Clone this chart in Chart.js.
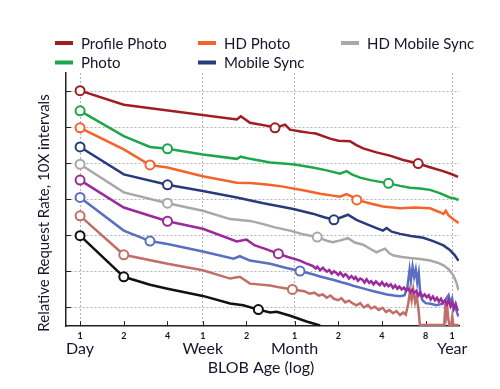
<!DOCTYPE html>
<html>
<head>
<meta charset="utf-8">
<script src="https://cdn.jsdelivr.net/npm/chart.js@4.4.1/dist/chart.umd.min.js"></script>
<style>
  html, body { margin: 0; padding: 0; background: #fff; }
  #wrap { width: 500px; height: 389px; position: relative; }
</style>
</head>
<body>
<div id="wrap"><canvas id="c" width="500" height="389"></canvas></div>
<script>
// x = BLOB age in days, y = relative request rate in decades (10X per grid step)
const tickDays = [1, 2, 4, 7, 14, 30, 60, 120, 240, 365];
const tickLabels = ['1', '2', '4', '1', '2', '1', '2', '4', '8', '1'];
const periodDays = [1, 7, 30, 365];
const periodLabels = ['Day', 'Week', 'Month', 'Year'];
const rateTicks = [1, 2, 3, 4, 5, 6, 7];

const legendNames = ['Profile Photo', 'Photo', 'HD Photo', 'Mobile Sync', 'HD Mobile Sync'];

const profilePhoto = [[1,7.01],[2,6.62],[12,6.21],[12.8,6.30],[14.8,6.12],[20.4,6.02],[22,5.98],[25.8,6.07],[27.9,5.93],[33,5.88],[38.4,5.84],[42,5.82],[52.7,5.68],[60,5.62],[72.3,5.61],[80,5.50],[89,5.41],[110,5.30],[136,5.21],[168,5.09],[213,4.99],[260,4.88],[316,4.78],[360,4.70],[401,4.62]];
const photo = [[1,6.45],[2,5.75],[3.03,5.45],[4,5.40],[7,5.24],[12,5.12],[12.8,5.18],[14.8,5.12],[20.4,5.02],[25,4.99],[30,4.96],[40,4.88],[50,4.80],[61.6,4.71],[68.5,4.78],[75,4.68],[84.8,4.60],[100,4.53],[133,4.44],[160,4.37],[187,4.32],[220,4.30],[257,4.26],[300,4.17],[352,4.05],[380,4.02],[404,3.98]];
const hdPhoto = [[1,5.98],[2,5.38],[3.03,4.95],[4,4.88],[7,4.64],[12,4.46],[14.8,4.45],[20,4.40],[25,4.35],[35,4.24],[45,4.15],[55,4.10],[61.6,4.07],[68.5,4.14],[74,4.08],[80.5,3.98],[100,3.88],[122,3.80],[160,3.75],[200,3.77],[257,3.75],[300,3.64],[318,3.59],[330,3.68],[345,3.55],[370,3.45],[404,3.34]];
const mobileSync = [[1,5.45],[2,4.69],[4,4.40],[7,4.23],[12,4.05],[18.3,3.89],[24,3.80],[29.4,3.73],[40,3.60],[48,3.50],[56,3.43],[63,3.50],[70,3.57],[80,3.43],[94,3.31],[110,3.20],[122,3.13],[129,3.20],[140,3.10],[160,3.04],[190,2.98],[231,2.93],[270,2.84],[318,2.72],[350,2.60],[380,2.45],[404,2.29]];
const hdMobileSync = [[1,4.97],[2,4.19],[4,3.89],[7,3.68],[10.8,3.45],[14.8,3.40],[18.3,3.31],[22,3.22],[27.9,3.13],[35,3.02],[43,2.95],[50,2.85],[55,2.81],[62,2.86],[70,2.92],[78,2.80],[89,2.74],[100,2.62],[110,2.53],[118,2.58],[126,2.63],[135,2.50],[144,2.44],[165,2.40],[187,2.37],[220,2.34],[257,2.30],[290,2.24],[318,2.17],[345,2.06],[372,1.89],[390,1.70],[404,1.48]];
const purpleSeries = [[1,4.53],[2,3.77],[4,3.39],[7,3.18],[12,2.83],[14,2.88],[16,2.72],[19.3,2.61],[23.2,2.49],[27,2.40],[32.7,2.30],[36,2.22],
    [40,2.15],[42,2.08],[43,2.13],[45,2.03],[47,2.10],[48,2.06],[50,1.99],[52,2.04],[54,1.94],[56,2.00],[58,1.96],[60,1.90],[62,1.97],[65,1.86],
    [67,1.92],[69,1.88],[71,1.80],[74,1.87],[77,1.79],[79,1.84],[82,1.74],[85,1.80],[88,1.77],[91,1.69],[94,1.78],[98,1.68],[101,1.73],
    [105,1.64],[109,1.72],[112,1.67],[116,1.62],[120,1.70],[125,1.60],[129,1.66],[133,1.59],[138,1.64],[143,1.54],[148,1.61],[153,1.52],
    [158,1.58],[164,1.50],[170,1.55],[176,1.46],[182,1.52],[188,1.42],[194,1.49],[200,1.40],[207,1.46],[214,1.33],[221,1.41],[228,1.30],
    [236,1.36],[244,1.28],[252,1.34],[260,1.22],[269,1.30],[278,1.20],[287,1.27],[296,1.16],[306,1.24],[316,1.12],[326,1.19],[336,1.08],
    [346,1.20],[356,1.03],[366,1.12],[376,0.98],[386,1.10],[396,0.94],[404,0.92]];
const blueSeries = [[1,4.05],[2,3.13],[3.03,2.84],[4,2.76],[7,2.55],[11.4,2.35],[12.6,2.42],[14.8,2.30],[20.4,2.21],[26,2.10],[32.7,2.01],
    [40,1.92],[45,1.86],[50,1.81],[56,1.76],[63,1.70],[70,1.65],[76,1.60],[85,1.55],[94,1.50],[105,1.45],[118,1.40],[130,1.36],[145,1.33],
    [160,1.31],[172,1.34],[180,1.60],[186,2.05],[190,1.75],[195,2.13],[200,1.85],[205,2.05],[210,1.70],[215,1.95],[220,1.40],[228,1.20],
    [240,1.12],[260,1.10],[285,1.06],[310,1.10],[330,1.22],[345,1.34],[355,1.12],[365,1.25],[375,0.95],[385,1.05],[395,0.85],[404,0.75]];
const rosySeries = [[1,3.54],[2,2.46],[4,2.21],[7,2.03],[10.8,1.80],[12.6,1.85],[14.8,1.66],[20.4,1.61],[24,1.55],[29,1.50],
    [35,1.45],[38,1.38],[41,1.41],[44,1.33],[47,1.36],[50,1.27],[53,1.33],[56,1.24],[60,1.20],[63,1.26],[67,1.14],[71,1.19],[75,1.12],
    [80,1.06],[85,1.12],[90,1.00],[96,1.07],[101,0.97],[107,1.02],[114,0.93],[121,0.99],[128,0.87],[135,0.93],[143,0.84],[151,0.90],
    [160,0.79],[168,0.86],[175,0.80],[182,1.10],[187,1.45],[192,1.20],[197,1.50],[203,1.15],[208,1.32],[214,0.95],[219,0.51],
    [322,0.51],[328,1.10],[333,0.80],[338,1.00],[343,0.70],[350,0.51],[360,0.51],[366,0.75],[372,0.51],[404,0.51]];
const blackSeries = [[1,2.99],[2,1.85],[3.03,1.63],[4,1.52],[7,1.32],[10.8,1.11],[13.3,1.06],[16.9,0.94],[20.4,0.86],[22.6,0.88],[28,0.77],[36.3,0.61],[45,0.50]];

// days where the hollow circle markers sit
const profileMarks = [1, 22, 213];
const photoMarks = [1, 4, 133];
const hdPhotoMarks = [1, 3.03, 80.5];
const mobileSyncMarks = [1, 4, 56];
const hdMobileMarks = [1, 4, 43];
const purpleMarks = [1, 4, 23.2];
const blueMarks = [1, 3.03, 32.7];
const rosyMarks = [1, 2, 29];
const blackMarks = [1, 2, 16.9];

const series = [
    { name: 'Profile Photo', data: profilePhoto, marks: profileMarks, color: '#a11d22' },
    { name: 'Photo', data: photo, marks: photoMarks, color: '#1ea64b' },
    { name: 'HD Photo', data: hdPhoto, marks: hdPhotoMarks, color: '#f4632a' },
    { name: 'Mobile Sync', data: mobileSync, marks: mobileSyncMarks, color: '#283b7c' },
    { name: 'HD Mobile Sync', data: hdMobileSync, marks: hdMobileMarks, color: '#a8a8a8' },
    { name: 'purple', data: purpleSeries, marks: purpleMarks, color: '#9b2b9c' },
    { name: 'blue', data: blueSeries, marks: blueMarks, color: '#5a6ec2' },
    { name: 'rosy', data: rosySeries, marks: rosyMarks, color: '#c06e69' },
    { name: 'black', data: blackSeries, marks: blackMarks, color: '#111111' }
];

const fontFamily = 'Lato, "Open Sans", sans-serif';
const textColor = '#15152a';
const gridColor = '#b3b3b3';

/**
 * Legend, axis titles, period labels and inward tick marks
 */
const extras = {
    id: 'extras',
    beforeDatasetsDraw(chart) {
        const { ctx, chartArea, scales } = chart;
        ctx.save();
        ctx.strokeStyle = '#222';
        ctx.lineWidth = 1;
        tickDays.forEach(d => {
            const x = Math.round(scales.x.getPixelForValue(d)) + 0.5;
            ctx.beginPath();
            ctx.moveTo(x, chartArea.bottom);
            ctx.lineTo(x, chartArea.bottom - 5);
            ctx.stroke();
        });
        rateTicks.forEach(v => {
            const y = Math.round(scales.y.getPixelForValue(v)) + 0.5;
            ctx.beginPath();
            ctx.moveTo(chartArea.left, y);
            ctx.lineTo(chartArea.left + 5, y);
            ctx.stroke();
        });
        ctx.restore();
    },
    afterDraw(chart) {
        const { ctx, scales } = chart;
        ctx.save();
        ctx.fillStyle = textColor;

        // legend: two rows, column-major
        ctx.font = '15px ' + fontFamily;
        ctx.textBaseline = 'middle';
        legendNames.forEach((name, i) => {
            const s = series.find(d => d.name === name);
            const x = 55 + Math.floor(i / 2) * 143;
            const y = 43 + (i % 2) * 19.5;
            ctx.strokeStyle = s.color;
            ctx.lineWidth = 4;
            ctx.beginPath();
            ctx.moveTo(x, y);
            ctx.lineTo(x + 18, y);
            ctx.stroke();
            ctx.fillText(name, x + 26, y + 1);
        });

        // period labels under the numbers
        ctx.font = '16px ' + fontFamily;
        ctx.textAlign = 'center';
        periodDays.forEach((d, i) => {
            ctx.fillText(periodLabels[i], scales.x.getPixelForValue(d), 349);
        });
        ctx.fillText('BLOB Age (log)', 261, 368);

        // y title
        ctx.translate(44, 213);
        ctx.rotate(-Math.PI / 2);
        ctx.font = '15px ' + fontFamily;
        ctx.fillText('Relative Request Rate, 10X intervals', 0, 0);
        ctx.restore();
    }
};

new Chart(document.getElementById('c'), {
    type: 'line',
    data: {
        datasets: series.map(s => ({
            label: s.name,
            data: s.data.map(p => ({ x: p[0], y: p[1] })),
            borderColor: s.color,
            backgroundColor: '#ffffff',
            pointBorderColor: s.color,
            pointBackgroundColor: '#ffffff',
            borderWidth: 2.5,
            pointBorderWidth: 2,
            pointRadius: ctx => s.marks.includes(ctx.raw.x) ? 4.5 : 0,
            tension: 0,
            fill: false
        }))
    },
    options: {
        responsive: false,
        animation: false,
        layout: { padding: { left: 66, right: 41, top: 73, bottom: 44 } },
        plugins: { legend: { display: false }, tooltip: { enabled: false } },
        scales: {
            x: {
                type: 'logarithmic',
                min: 0.8,
                max: 407,
                afterBuildTicks: scale => { scale.ticks = tickDays.map(v => ({ value: v })); },
                ticks: {
                    autoSkip: false,
                    maxRotation: 0,
                    padding: 4,
                    color: textColor,
                    font: { family: fontFamily, size: 9, weight: 'bold' },
                    callback: (v, i) => tickLabels[i]
                },
                grid: {
                    drawTicks: false,
                    color: ctx => ctx.tick && periodDays.includes(ctx.tick.value) ? gridColor : 'rgba(0,0,0,0)',
                    lineWidth: 1
                },
                border: { display: true, color: '#222', width: 1.5, dash: [2, 2] }
            },
            y: {
                type: 'linear',
                min: 0.48,
                max: 7.5,
                afterBuildTicks: scale => { scale.ticks = rateTicks.map(v => ({ value: v })); },
                ticks: { display: false },
                grid: { drawTicks: false, color: gridColor, lineWidth: 1 },
                border: { display: true, color: '#222', width: 1.5, dash: [2, 2] }
            }
        }
    },
    plugins: [extras]
});
</script>
</body>
</html>
